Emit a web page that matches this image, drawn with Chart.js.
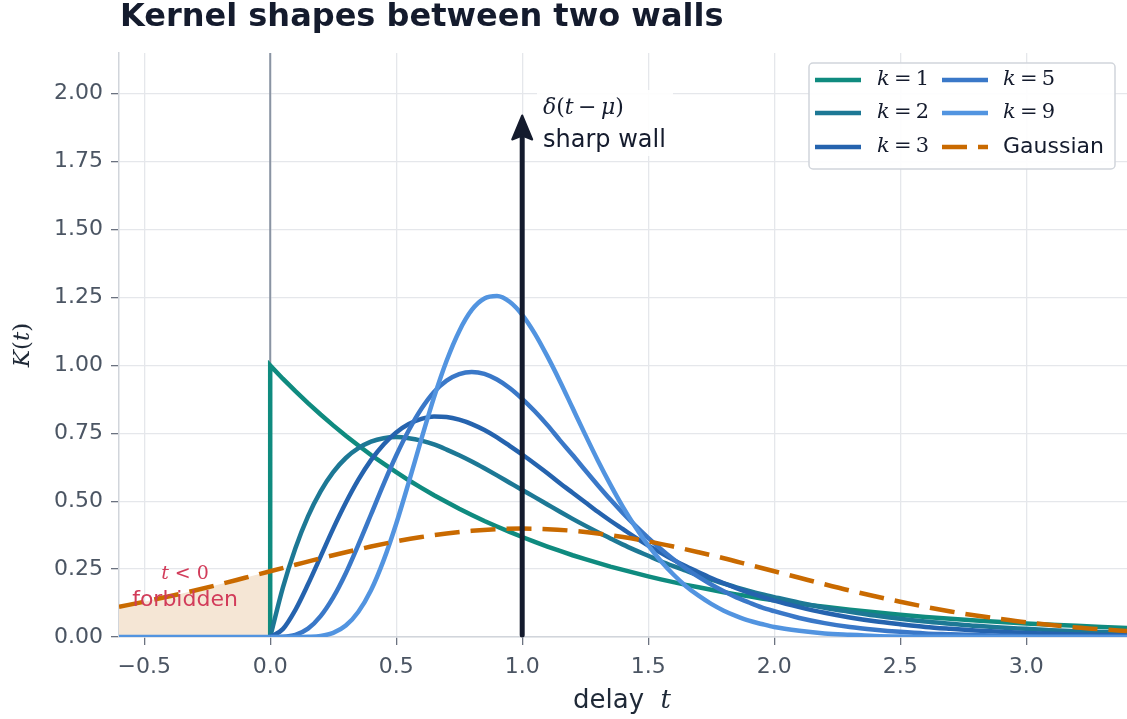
<!DOCTYPE html>
<html>
<head>
<meta charset="utf-8">
<script src="https://cdn.jsdelivr.net/npm/chart.js@4.4.1/dist/chart.umd.min.js"></script>
<style>
  body { margin: 0; background: #fff; }
  canvas { display: block; }
</style>
</head>
<body>
<canvas id="kernels" width="1127" height="719"></canvas>
<script>
// delay values (t), finer where the curves bend
const tFine = [0, 0.05, 0.1, 0.15, 0.2, 0.25, 0.3, 0.35, 0.4, 0.45, 0.5,
  0.55, 0.6, 0.65, 0.7, 0.75, 0.8, 0.85, 0.9, 0.95, 1.0,
  1.05, 1.1, 1.15, 1.2, 1.25, 1.3, 1.35, 1.4, 1.45, 1.5,
  1.55, 1.6, 1.65, 1.7, 1.75, 1.8, 1.85, 1.9, 1.95, 2.0,
  2.1, 2.2, 2.3, 2.4, 2.5, 2.6, 2.7, 2.8, 2.9, 3.0, 3.1, 3.2, 3.3, 3.4];
const tK1 = [0].concat(tFine);           // k=1 jumps straight up at t=0
const tNeg = [-0.6, 0];                   // every kernel is zero for t<0
const zeroNeg = [0, 0];
const tGauss = [-0.6, -0.5, -0.4, -0.3, -0.2, -0.1, 0, 0.1, 0.2, 0.3, 0.4, 0.5,
  0.6, 0.7, 0.8, 0.9, 1.0, 1.1, 1.2, 1.3, 1.4, 1.5, 1.6, 1.7, 1.8, 1.9, 2.0,
  2.1, 2.2, 2.3, 2.4, 2.5, 2.6, 2.7, 2.8, 2.9, 3.0, 3.1, 3.2, 3.3, 3.4];

// K(t) per kernel
const k1 = [0, 1, 0.951, 0.905, 0.861, 0.819, 0.779, 0.741, 0.705, 0.670, 0.638, 0.607,
  0.577, 0.549, 0.522, 0.497, 0.472, 0.449, 0.427, 0.407, 0.387, 0.368,
  0.350, 0.333, 0.317, 0.301, 0.287, 0.273, 0.259, 0.247, 0.235, 0.223,
  0.212, 0.202, 0.192, 0.183, 0.174, 0.165, 0.157, 0.150, 0.142, 0.135,
  0.122, 0.111, 0.100, 0.091, 0.082, 0.074, 0.067, 0.061, 0.055, 0.050, 0.045, 0.041, 0.037, 0.033];
const k2 = [0, 0.181, 0.327, 0.444, 0.536, 0.607, 0.659, 0.695, 0.719, 0.732, 0.736,
  0.732, 0.723, 0.709, 0.690, 0.669, 0.646, 0.621, 0.595, 0.568, 0.541,
  0.515, 0.488, 0.461, 0.435, 0.410, 0.386, 0.363, 0.340, 0.319, 0.299,
  0.279, 0.261, 0.244, 0.227, 0.211, 0.197, 0.183, 0.170, 0.158, 0.147,
  0.126, 0.108, 0.093, 0.079, 0.067, 0.057, 0.049, 0.041, 0.035, 0.030, 0.025, 0.021, 0.018, 0.015];
const k3 = [0, 0.029, 0.100, 0.194, 0.296, 0.399, 0.494, 0.579, 0.651, 0.709, 0.753,
  0.784, 0.803, 0.812, 0.810, 0.800, 0.784, 0.762, 0.735, 0.704, 0.672,
  0.638, 0.603, 0.566, 0.531, 0.496, 0.461, 0.428, 0.397, 0.366, 0.337,
  0.310, 0.284, 0.260, 0.238, 0.217, 0.198, 0.180, 0.163, 0.148, 0.134,
  0.110, 0.089, 0.072, 0.058, 0.047, 0.037, 0.030, 0.024, 0.019, 0.015, 0.012, 0.009, 0.007, 0.006];
const k5 = [0, 0.001, 0.008, 0.031, 0.077, 0.146, 0.235, 0.340, 0.451, 0.563, 0.668,
  0.761, 0.840, 0.902, 0.944, 0.968, 0.976, 0.969, 0.948, 0.917, 0.877,
  0.831, 0.780, 0.724, 0.670, 0.614, 0.559, 0.506, 0.456, 0.409, 0.365,
  0.324, 0.286, 0.252, 0.221, 0.193, 0.168, 0.146, 0.127, 0.109, 0.095,
  0.070, 0.051, 0.037, 0.027, 0.019, 0.013, 0.010, 0.007, 0.005, 0.003, 0.002, 0.002, 0.001, 0.001];
const k9 = [0, 0, 0, 0.001, 0.004, 0.015, 0.042, 0.093, 0.172, 0.282, 0.417,
  0.570, 0.729, 0.882, 1.017, 1.126, 1.204, 1.246, 1.255, 1.234, 1.186,
  1.117, 1.033, 0.941, 0.843, 0.745, 0.650, 0.561, 0.478, 0.404, 0.337,
  0.280, 0.230, 0.187, 0.152, 0.122, 0.097, 0.077, 0.060, 0.048, 0.037,
  0.023, 0.013, 0.008, 0.004, 0.002, 0.001, 0.001, 0, 0, 0, 0, 0, 0, 0];
const gauss = [0.111, 0.130, 0.150, 0.171, 0.194, 0.218, 0.242, 0.266, 0.290, 0.312, 0.333, 0.352,
  0.368, 0.381, 0.391, 0.397, 0.399, 0.397, 0.391, 0.381, 0.368, 0.352, 0.333,
  0.312, 0.290, 0.266, 0.242, 0.218, 0.194, 0.171, 0.150, 0.130, 0.111,
  0.094, 0.079, 0.066, 0.054, 0.044, 0.035, 0.028, 0.022];

const xTicks = [-0.5, 0, 0.5, 1.0, 1.5, 2.0, 2.5, 3.0];
const yTicks = [0, 0.25, 0.5, 0.75, 1.0, 1.25, 1.5, 1.75, 2.0];
const deltaTop = 1.92;

const INK = "#141b2d";
const TICK = "#4b5563";
const RED = "#d23c5a";
const C9 = "#5294e0";

function pts(xs, ys) {
  return xs.map((x, i) => ({ x: x, y: ys[i] }));
}

function line(label, xs, ys, color, order, extra) {
  return Object.assign({
    label: label,
    data: pts(xs, ys),
    borderColor: color,
    backgroundColor: color,
    borderWidth: 4.5,
    pointRadius: 0,
    fill: false,
    cubicInterpolationMode: "monotone",
    order: order
  }, extra || {});
}

// draws a run of [text, italic, family] pieces, mathtext-ish
function mathText(ctx, parts, x, y, size, align) {
  const fontOf = p => (p[1] ? "italic " : "") + size + "px " + (p[2] || '"DejaVu Serif"');
  let w = 0;
  parts.forEach(p => { ctx.font = fontOf(p); w += ctx.measureText(p[0]).width; });
  let cx = x;
  if (align === "center") cx = x - w / 2;
  ctx.textAlign = "left";
  parts.forEach(p => {
    ctx.font = fontOf(p);
    ctx.fillText(p[0], cx, y);
    cx += ctx.measureText(p[0]).width;
  });
}

const decor = {
  id: "decor",
  beforeDatasetsDraw(chart) {
    const ctx = chart.ctx, xs = chart.scales.x, a = chart.chartArea;
    const x0 = xs.getPixelForValue(0);
    ctx.save();
    ctx.strokeStyle = "#8a94a3";
    ctx.lineWidth = 2;
    ctx.beginPath();
    ctx.moveTo(x0, a.top);
    ctx.lineTo(x0, a.bottom);
    ctx.stroke();
    ctx.restore();
  },
  afterDatasetsDraw(chart) {
    const ctx = chart.ctx, xs = chart.scales.x, ys = chart.scales.y;
    const x = xs.getPixelForValue(1);
    const yb = ys.getPixelForValue(0);
    const yt = ys.getPixelForValue(deltaTop);
    ctx.save();
    ctx.strokeStyle = INK;
    ctx.fillStyle = INK;
    ctx.lineWidth = 5;
    ctx.lineCap = "round";
    ctx.beginPath();
    ctx.moveTo(x, yb - 2);
    ctx.lineTo(x, yt + 20);
    ctx.stroke();
    ctx.beginPath();
    ctx.lineJoin = "round";
    ctx.lineWidth = 2;
    ctx.moveTo(x, yt);
    ctx.lineTo(x + 10, yt + 24);
    ctx.lineTo(x, yt + 20);
    ctx.lineTo(x - 10, yt + 24);
    ctx.closePath();
    ctx.fill();
    ctx.stroke();
    ctx.restore();
  },
  afterDraw(chart) {
    const ctx = chart.ctx;
    ctx.save();
    ctx.textBaseline = "middle";

    // title
    ctx.fillStyle = INK;
    ctx.font = 'bold 32px "DejaVu Sans"';
    ctx.textAlign = "left";
    ctx.fillText("Kernel shapes between two walls", 120, 18);

    // axis titles
    ctx.fillStyle = "#1f2937";
    mathText(ctx, [["delay", false, '"DejaVu Sans"'], ["  ", false, '"DejaVu Sans"'], ["t", true]], 622, 701, 26, "center");
    ctx.save();
    ctx.translate(23, 345);
    ctx.rotate(-Math.PI / 2);
    mathText(ctx, [["K", true], ["(", false], ["t", true], [")", false]], 0, 0, 23, "center");
    ctx.restore();

    // delta annotation
    ctx.fillStyle = "rgba(255,255,255,0.9)";
    ctx.fillRect(537, 90, 136, 66);
    ctx.fillStyle = INK;
    mathText(ctx, [["δ", true], ["(", false], ["t", true], ["\u2009−\u2009", false], ["μ", true], [")", false]], 543, 108, 22, "left");
    ctx.font = '24px "DejaVu Sans"';
    ctx.textAlign = "left";
    ctx.fillText("sharp wall", 543, 141);

    // forbidden region label
    ctx.fillStyle = RED;
    mathText(ctx, [["t", true], [" < 0", false]], 185, 574, 19, "center");
    ctx.font = '22px "DejaVu Sans"';
    ctx.textAlign = "center";
    ctx.fillText("forbidden", 185, 600);

    // legend, two columns
    const bx = 809, by = 63, bw = 306, bh = 106;
    ctx.fillStyle = "rgba(255,255,255,0.92)";
    ctx.strokeStyle = "#d1d5db";
    ctx.lineWidth = 1.5;
    ctx.beginPath();
    ctx.roundRect(bx, by, bw, bh, 4);
    ctx.fill();
    ctx.stroke();
    const entries = chart.data.datasets.filter(d => d.label);
    const rows = [80, 113, 147];
    entries.forEach((d, i) => {
      const col = Math.floor(i / 3), row = i % 3;
      const lx = col === 0 ? 815 : 942;
      const tx = col === 0 ? 877 : 1003;
      const y = rows[row];
      ctx.strokeStyle = d.borderColor;
      ctx.lineWidth = 4.5;
      ctx.lineCap = "butt";
      ctx.setLineDash(d.borderDash || []);
      ctx.beginPath();
      ctx.moveTo(lx, y);
      ctx.lineTo(lx + 46, y);
      ctx.stroke();
      ctx.setLineDash([]);
      ctx.fillStyle = INK;
      if (d.label.startsWith("k=")) {
        mathText(ctx, [["k", true], ["\u2009=\u2009", false], [d.label.slice(2), false]], tx, y, 21, "left");
      } else {
        ctx.font = '22px "DejaVu Sans"';
        ctx.textAlign = "left";
        ctx.fillText(d.label, tx, y);
      }
    });
    ctx.restore();
  }
};

new Chart(document.getElementById("kernels").getContext("2d"), {
  type: "line",
  data: {
    datasets: [
      line("k=1", tK1, k1, "#0f8b7f", 5, { cubicInterpolationMode: "default", tension: 0 }),
      line("k=2", tFine, k2, "#1d7895", 4),
      line("k=3", tFine, k3, "#2563ae", 3),
      line("k=5", tFine, k5, "#3a78c8", 2),
      line("k=9", tFine, k9, C9, 1),
      line("Gaussian", tGauss, gauss, "#c96a00", 0, { borderDash: [25, 11] }),
      line("", tNeg, zeroNeg, C9, 1),
      line("", tGauss.slice(0, 7), gauss.slice(0, 7), "rgba(0,0,0,0)", 6, {
        fill: "origin", backgroundColor: "#f5e6d5", borderWidth: 0
      })
    ]
  },
  options: {
    responsive: false,
    animation: false,
    layout: { padding: { top: 53, right: 0, bottom: 0, left: 0 } },
    plugins: {
      legend: { display: false },
      title: { display: false },
      tooltip: { enabled: false }
    },
    scales: {
      x: {
        type: "linear",
        min: -0.6,
        max: 3.4,
        afterBuildTicks: s => { s.ticks = xTicks.map(v => ({ value: v })); },
        afterFit: s => { s.height = 82; },
        ticks: {
          color: TICK,
          font: { family: "DejaVu Sans", size: 22 },
          padding: 9,
          maxRotation: 0,
          callback: v => v.toFixed(1).replace("-", "−")
        },
        grid: { color: "#e5e7eb", lineWidth: 1.3, tickColor: "#6b7280", tickLength: 8 },
        border: { color: "#d1d5db", width: 1.5 }
      },
      y: {
        min: 0,
        max: 2.15,
        afterBuildTicks: s => { s.ticks = yTicks.map(v => ({ value: v })); },
        afterFit: s => { s.width = 119; },
        ticks: {
          color: TICK,
          font: { family: "DejaVu Sans", size: 22 },
          padding: 8,
          callback: v => v.toFixed(2)
        },
        grid: { color: "#e5e7eb", lineWidth: 1.3, tickColor: "#6b7280", tickLength: 8 },
        border: { color: "#d1d5db", width: 1.5 }
      }
    }
  },
  plugins: [decor]
});
</script>
</body>
</html>
